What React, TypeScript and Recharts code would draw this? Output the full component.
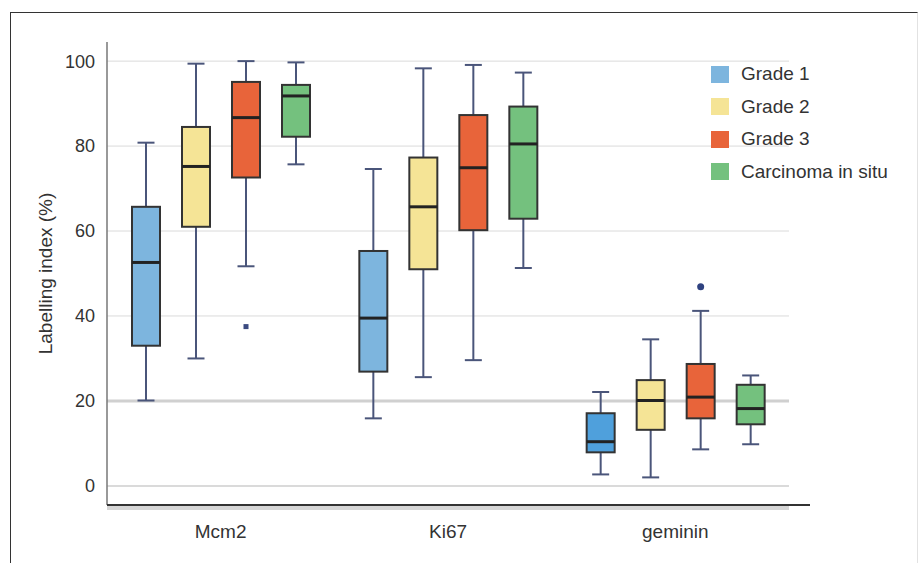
import React from 'react';
import {
  BarChart,
  Bar,
  XAxis,
  YAxis,
  CartesianGrid,
  Legend,
} from 'recharts';

// --- Data (labelling index, %) ---
const categories = ['Mcm2', 'Ki67', 'geminin'];
const seriesNames = ['Grade 1', 'Grade 2', 'Grade 3', 'Carcinoma in situ'];

const grade1Min = [20.1, 15.9, 2.7];
const grade1Q1 = [33.0, 26.9, 7.9];
const grade1Median = [52.6, 39.5, 10.4];
const grade1Q3 = [65.7, 55.3, 17.1];
const grade1Max = [80.8, 74.6, 22.1];

const grade2Min = [30.0, 25.6, 2.0];
const grade2Q1 = [61.0, 51.0, 13.2];
const grade2Median = [75.2, 65.7, 20.1];
const grade2Q3 = [84.5, 77.3, 24.9];
const grade2Max = [99.4, 98.3, 34.5];

const grade3Min = [51.7, 29.6, 8.6];
const grade3Q1 = [72.6, 60.2, 15.9];
const grade3Median = [86.7, 74.9, 20.9];
const grade3Q3 = [95.1, 87.3, 28.7];
const grade3Max = [100, 99.1, 41.2];
const grade3Outliers = [[37.5], [], [46.9]];

const cisMin = [75.7, 51.3, 9.8];
const cisQ1 = [82.2, 62.9, 14.5];
const cisMedian = [91.8, 80.5, 18.2];
const cisQ3 = [94.4, 89.3, 23.8];
const cisMax = [99.7, 97.3, 26.0];

const yTicks = [0, 20, 40, 60, 80, 100];
const yDomain = [-4.5, 104.5];

// --- Layout / styles ---
const MARGIN = { top: 42, right: 131, bottom: 28, left: 27 };
const CHART_W = 920;
const CHART_H = 563;
const X_AXIS_H = 30;
const PLOT_H = CHART_H - MARGIN.top - MARGIN.bottom - X_AXIS_H;

const COLORS = ['#7db5de', '#f5e496', '#e8643a', '#74c17e'];
const FILL_OVERRIDE: Record<string, string> = { '0-2': '#4fa0dc' };
const OUTLIER_SHAPE = ['square', 'circle', 'circle'];
const FONT = '"Liberation Sans", Arial, sans-serif';
const WHISKER = '#4a557a';

const seriesStats = [
  { min: grade1Min, q1: grade1Q1, med: grade1Median, q3: grade1Q3, max: grade1Max, out: [[], [], []] },
  { min: grade2Min, q1: grade2Q1, med: grade2Median, q3: grade2Q3, max: grade2Max, out: [[], [], []] },
  { min: grade3Min, q1: grade3Q1, med: grade3Median, q3: grade3Q3, max: grade3Max, out: grade3Outliers },
  { min: cisMin, q1: cisQ1, med: cisMedian, q3: cisQ3, max: cisMax, out: [[], [], []] },
];

const data = categories.map((name, ci) => {
  const row: any = { name, idx: ci };
  seriesStats.forEach((s, si) => {
    row[`s${si}`] = [s.min[ci], s.max[ci]];
    row[`s${si}q1`] = s.q1[ci];
    row[`s${si}med`] = s.med[ci];
    row[`s${si}q3`] = s.q3[ci];
    row[`s${si}out`] = s.out[ci];
  });
  return row;
});

const makeBoxShape = (si: number) => (props: any) => {
  const { x, y, width, height, payload } = props;
  const [lo, hi] = payload[`s${si}`];
  const top = Math.min(y, y + height);
  const bottom = Math.max(y, y + height);
  // linear map using the pixel span the y scale gave the [min, max] range
  const px = (v: number) => top + ((bottom - top) * (hi - v)) / (hi - lo);
  const cx = x + width / 2;
  const yQ1 = px(payload[`s${si}q1`]);
  const yQ3 = px(payload[`s${si}q3`]);
  const yMed = px(payload[`s${si}med`]);
  const cap = 8.5;
  const fill = FILL_OVERRIDE[`${si}-${payload.idx}`] || COLORS[si];
  const outs: number[] = payload[`s${si}out`] || [];
  return (
    <g>
      <line x1={cx} x2={cx} y1={top} y2={yQ3} stroke={WHISKER} strokeWidth={2} />
      <line x1={cx} x2={cx} y1={yQ1} y2={bottom} stroke={WHISKER} strokeWidth={2} />
      <line x1={cx - cap} x2={cx + cap} y1={top} y2={top} stroke={WHISKER} strokeWidth={2} />
      <line x1={cx - cap} x2={cx + cap} y1={bottom} y2={bottom} stroke={WHISKER} strokeWidth={2} />
      <rect x={x} y={yQ3} width={width} height={yQ1 - yQ3} fill={fill} stroke="#333" strokeWidth={2} />
      <line x1={x} x2={x + width} y1={yMed} y2={yMed} stroke="#222" strokeWidth={3} />
      {outs.map((v, i) =>
        OUTLIER_SHAPE[payload.idx] === 'square' ? (
          <rect key={i} x={cx - 2.5} y={px(v) - 2.5} width={5} height={5} fill="#3b4a80" />
        ) : (
          <circle key={i} cx={cx} cy={px(v)} r={3.5} fill="#2f4280" />
        )
      )}
    </g>
  );
};

// grid lines: skip the plot edges, draw 20 heavier and 0 slightly heavier
const gridLine = (p: any) => {
  const v = yDomain[1] - ((p.y1 - MARGIN.top) * (yDomain[1] - yDomain[0])) / PLOT_H;
  const key = p.key ?? `g${p.index}`;
  if (v > yDomain[1] - 1 || v < yDomain[0] + 1) return <g key={key} />;
  const is20 = Math.abs(v - 20) < 1;
  const is0 = Math.abs(v) < 1;
  return (
    <line
      key={key}
      x1={p.x1}
      x2={p.x2}
      y1={p.y1}
      y2={p.y2}
      stroke={is20 ? '#d0d0d0' : '#dadada'}
      strokeWidth={is20 ? 3 : is0 ? 2 : 1}
    />
  );
};

const renderLegend = () => (
  <div style={{ fontFamily: FONT, fontSize: 19, color: '#333' }}>
    {seriesNames.map((n, i) => (
      <div key={n} style={{ display: 'flex', alignItems: 'center', height: 32.5 }}>
        <span style={{ display: 'inline-block', width: 18, height: 17, background: COLORS[i], marginRight: 12 }} />
        <span>{n}</span>
      </div>
    ))}
  </div>
);

export default function App() {
  return (
    <div style={{ position: 'absolute', left: 0, top: 0, width: CHART_W, height: CHART_H, background: '#fff', overflow: 'hidden' }}>
      {/* frame */}
      <div
        style={{
          position: 'absolute',
          left: 10,
          top: 12,
          width: 906,
          height: 560,
          borderLeft: '1.5px solid #333',
          borderTop: '1.5px solid #333',
          borderRight: '1px solid #e2e2e2',
        }}
      />
      <BarChart
        width={CHART_W}
        height={CHART_H}
        data={data}
        margin={MARGIN}
        barSize={28}
        barGap={22}
        barCategoryGap={25}
      >
        <CartesianGrid vertical={false} horizontal={gridLine} />
        <XAxis
          dataKey="name"
          height={X_AXIS_H}
          axisLine={false}
          tickLine={false}
          tickSize={6}
          tickMargin={14}
          tick={{ fontSize: 19, fill: '#333', fontFamily: FONT }}
        />
        <YAxis
          type="number"
          domain={yDomain}
          ticks={yTicks}
          width={80}
          axisLine={{ stroke: '#777', strokeWidth: 1.5 }}
          tickLine={false}
          tickSize={6}
          tickMargin={6}
          tick={{ fontSize: 18, fill: '#333', fontFamily: FONT }}
          label={{
            content: (p: any) => {
              const vb = p.viewBox || { y: MARGIN.top, height: PLOT_H };
              const cx = 45;
              const cy = vb.y + vb.height / 2;
              return (
                <text
                  x={cx}
                  y={cy}
                  transform={`rotate(-90 ${cx} ${cy})`}
                  textAnchor="middle"
                  dominantBaseline="central"
                  fontSize={19}
                  fill="#333"
                  fontFamily={FONT}
                >
                  Labelling index (%)
                </text>
              );
            },
          }}
        />
        <Legend
          layout="vertical"
          align="center"
          verticalAlign="middle"
          content={renderLegend}
          wrapperStyle={{ left: 711, top: 58, width: 205 }}
        />
        {seriesNames.map((n, si) => (
          <Bar
            key={n}
            name={n}
            dataKey={`s${si}`}
            fill={COLORS[si]}
            shape={makeBoxShape(si)}
            isAnimationActive={false}
          />
        ))}
      </BarChart>
      {/* bottom axis line with its grey shadow */}
      <div style={{ position: 'absolute', left: 107, top: 506, width: 682, height: 4, background: '#d6d6d6' }} />
      <div style={{ position: 'absolute', left: 107, top: 504, width: 703, height: 2, background: '#333' }} />
    </div>
  );
}
